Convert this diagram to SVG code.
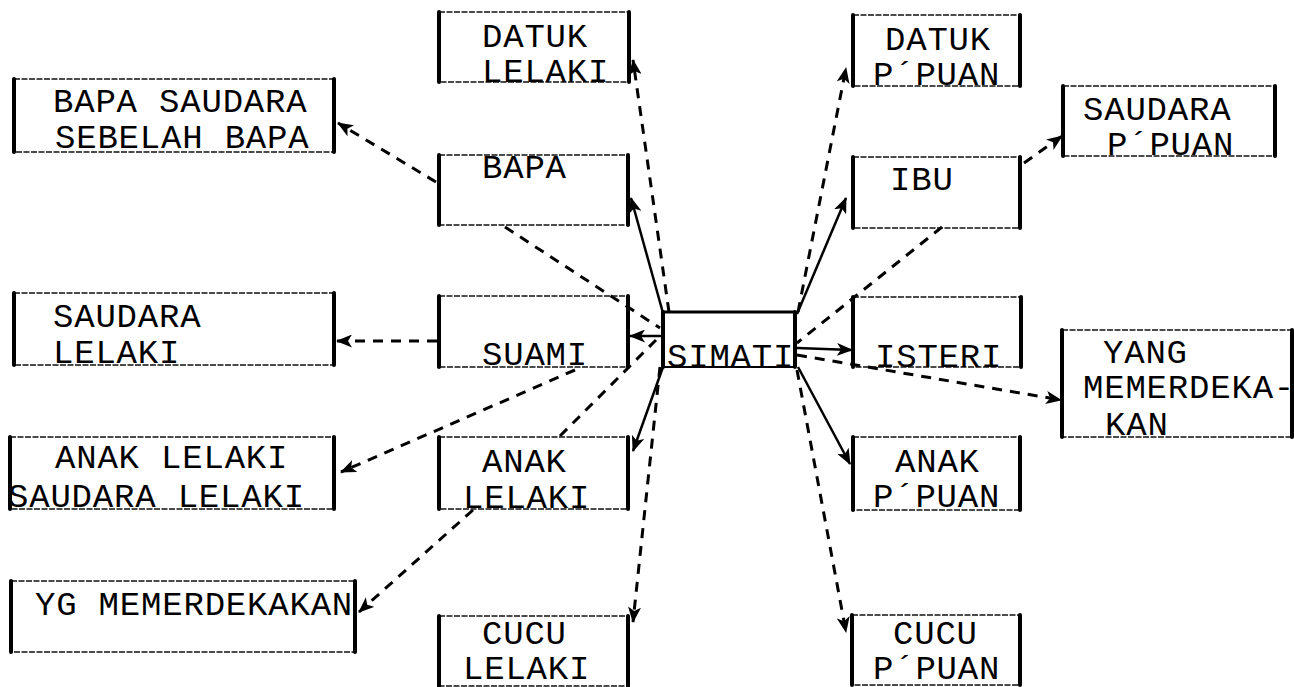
<svg xmlns="http://www.w3.org/2000/svg" width="1294" height="687" viewBox="0 0 1294 687">
<style>
.frame{fill:none;stroke:#111;stroke-width:1.3;stroke-dasharray:6 1.5}
.side{fill:none;stroke:#000;stroke-width:4;stroke-linecap:round}
.t{font-family:"Liberation Mono","Courier New",monospace;font-size:34px;letter-spacing:0.8px;fill:#000}
.dash{fill:none;stroke:#000;stroke-width:3;stroke-dasharray:10 8}
.solid{fill:none;stroke:#000;stroke-width:2.5}
</style>
<defs>
<marker id="ah" viewBox="0 0 16 13" refX="15" refY="6.5" markerWidth="16" markerHeight="13" markerUnits="userSpaceOnUse" orient="auto">
<path d="M0,0 L16,6.5 L0,13 L4,6.5 Z" fill="#000"/>
</marker>
</defs>
<rect width="1294" height="687" fill="#fff"/>

<g id="connectors">
<line class="solid" x1="663" y1="313" x2="631" y2="198" marker-end="url(#ah)"/>
<line class="solid" x1="797" y1="314" x2="846" y2="198" marker-end="url(#ah)"/>
<line class="solid" x1="663" y1="336" x2="630" y2="336" marker-end="url(#ah)"/>
<line class="solid" x1="797" y1="348" x2="852" y2="350" marker-end="url(#ah)"/>
<line class="solid" x1="663" y1="367" x2="633" y2="451" marker-end="url(#ah)"/>
<line class="solid" x1="798" y1="367" x2="850" y2="464" marker-end="url(#ah)"/>
<line class="dash" x1="669" y1="312" x2="633" y2="60" marker-end="url(#ah)"/>
<line class="dash" x1="798" y1="312" x2="846" y2="68" marker-end="url(#ah)"/>
<line class="dash" x1="660" y1="367" x2="633" y2="622" marker-end="url(#ah)"/>
<line class="dash" x1="797" y1="370" x2="846" y2="632" marker-end="url(#ah)"/>
<line class="dash" x1="505" y1="227" x2="660" y2="328"/>
<line class="dash" x1="942" y1="227" x2="797" y2="343"/>
<line class="dash" x1="560" y1="436" x2="656" y2="340"/>
<line class="dash" x1="797" y1="355" x2="1061" y2="400" marker-end="url(#ah)"/>
<line class="dash" x1="436" y1="182" x2="338" y2="123" marker-end="url(#ah)"/>
<line class="dash" x1="437" y1="341" x2="337" y2="341" marker-end="url(#ah)"/>
<line class="dash" x1="575" y1="370" x2="341" y2="472" marker-end="url(#ah)"/>
<line class="dash" x1="473" y1="510" x2="359" y2="612" marker-end="url(#ah)"/>
<line class="dash" x1="1024" y1="163" x2="1062" y2="136" marker-end="url(#ah)"/>
</g>

<g id="datuk-lelaki">
<rect class="frame" x="439" y="12" width="190" height="70"/>
<path class="side" d="M439,12 V82 M629,12 V82"/>
<text class="t" x="482" y="47">DATUK</text>
<text class="t" x="482" y="82">LELAKI</text>
</g>

<g id="datuk-ppuan">
<rect class="frame" x="853" y="15" width="167" height="71"/>
<path class="side" d="M853,15 V86 M1020,15 V86"/>
<text class="t" x="885" y="50">DATUK</text>
<text class="t" x="873" y="85">P´PUAN</text>
</g>

<g id="bapa-saudara">
<rect class="frame" x="14" y="79" width="320" height="73"/>
<path class="side" d="M14,79 V152 M334,79 V152"/>
<text class="t" x="53" y="112">BAPA SAUDARA</text>
<text class="t" x="55" y="148">SEBELAH BAPA</text>
</g>

<g id="bapa">
<rect class="frame" x="439" y="155" width="189" height="70"/>
<path class="side" d="M439,155 V225 M628,155 V225"/>
<text class="t" x="482" y="178">BAPA</text>
</g>

<g id="ibu">
<rect class="frame" x="853" y="157" width="167" height="71"/>
<path class="side" d="M853,157 V228 M1020,157 V228"/>
<text class="t" x="890" y="190">IBU</text>
</g>

<g id="saudara-ppuan">
<rect class="frame" x="1063" y="86" width="212" height="70"/>
<path class="side" d="M1063,86 V156 M1275,86 V156"/>
<text class="t" x="1083" y="120">SAUDARA</text>
<text class="t" x="1107" y="155">P´PUAN</text>
</g>

<g id="saudara-lelaki">
<rect class="frame" x="14" y="293" width="320" height="72"/>
<path class="side" d="M14,293 V365 M334,293 V365"/>
<text class="t" x="53" y="327">SAUDARA</text>
<text class="t" x="53" y="363">LELAKI</text>
</g>

<g id="suami">
<rect class="frame" x="439" y="296" width="189" height="71"/>
<path class="side" d="M439,296 V367 M628,296 V367"/>
<text class="t" x="482" y="365">SUAMI</text>
</g>

<g id="simati">
<rect x="663" y="312" width="132" height="55" fill="none" stroke="#000" stroke-width="2"/>
<path d="M663,312 H795" stroke="#000" stroke-width="3"/>
<path class="side" d="M663,312 V367 M795,312 V367"/>
<text class="t" x="667" y="367">SIMATI</text>
</g>

<g id="isteri">
<rect class="frame" x="853" y="297" width="168" height="70"/>
<path class="side" d="M853,297 V367 M1021,297 V367"/>
<text class="t" x="875" y="367">ISTERI</text>
</g>

<g id="yang-memerdekakan">
<rect class="frame" x="1062" y="330" width="230" height="107"/>
<path class="side" d="M1062,330 V437 M1292,330 V437"/>
<text class="t" x="1103" y="363">YANG</text>
<text class="t" x="1083" y="398">MEMERDEKA-</text>
<text class="t" x="1105" y="435">KAN</text>
</g>

<g id="anak-lelaki-saudara-lelaki">
<rect class="frame" x="10" y="437" width="324" height="72"/>
<path class="side" d="M10,437 V509 M334,437 V509"/>
<text class="t" x="55" y="468">ANAK LELAKI</text>
<text class="t" x="8" y="507">SAUDARA LELAKI</text>
</g>

<g id="anak-lelaki">
<rect class="frame" x="439" y="437" width="189" height="72"/>
<path class="side" d="M439,437 V509 M628,437 V509"/>
<text class="t" x="482" y="472">ANAK</text>
<text class="t" x="463" y="508">LELAKI</text>
</g>

<g id="anak-ppuan">
<rect class="frame" x="853" y="437" width="167" height="73"/>
<path class="side" d="M853,437 V510 M1020,437 V510"/>
<text class="t" x="895" y="472">ANAK</text>
<text class="t" x="873" y="507">P´PUAN</text>
</g>

<g id="yg-memerdekakan">
<rect class="frame" x="11" y="581" width="344" height="71"/>
<path class="side" d="M11,581 V652 M355,581 V652"/>
<text class="t" x="35" y="615">YG MEMERDEKAKAN</text>
</g>

<g id="cucu-lelaki">
<rect class="frame" x="439" y="616" width="189" height="70"/>
<path class="side" d="M439,616 V686 M628,616 V686"/>
<text class="t" x="482" y="644">CUCU</text>
<text class="t" x="463" y="679">LELAKI</text>
</g>

<g id="cucu-ppuan">
<rect class="frame" x="852" y="615" width="168" height="70"/>
<path class="side" d="M852,615 V685 M1020,615 V685"/>
<text class="t" x="893" y="644">CUCU</text>
<text class="t" x="873" y="679">P´PUAN</text>
</g>
</svg>
